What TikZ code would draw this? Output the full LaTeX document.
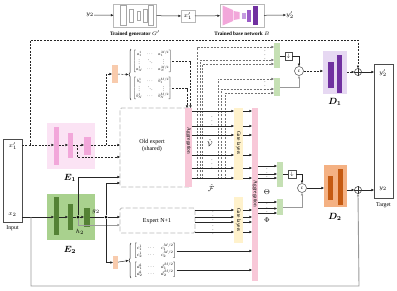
\documentclass[tikz,border=0pt]{standalone}
\usepackage{fontspec}
\setmainfont{Liberation Serif}
\usepackage{amsmath}
\usepackage{graphicx}
\usetikzlibrary{arrows.meta,decorations.pathreplacing,calc}
\newcommand\fsz[1]{\fontsize{#1}{#1}\selectfont}
\definecolor{epink}{HTML}{FBE3F4}
\definecolor{bpink}{HTML}{F2A7DA}
\definecolor{egreen}{HTML}{A9D18E}
\definecolor{bgreen}{HTML}{548235}
\definecolor{aggpink}{HTML}{F8C8D8}
\definecolor{gateyel}{HTML}{FFF2CC}
\definecolor{lgreen}{HTML}{C5E0B4}
\definecolor{lorange}{HTML}{F8CBAD}
\definecolor{lav}{HTML}{E6D8F2}
\definecolor{dpurple}{HTML}{7030A0}
\definecolor{mpurple}{HTML}{9A5CC8}
\definecolor{lpurple}{HTML}{C49BE0}
\definecolor{dorange}{HTML}{F4B183}
\definecolor{ddorange}{HTML}{C55A11}
\begin{document}
\begin{tikzpicture}[x=1pt,y=-1pt,
  arr/.style={-{Triangle[length=2.6pt,width=2.2pt]}},
  ln/.style={draw=black!85,line width=0.5pt},
  dl/.style={ln,dash pattern=on 2pt off 1.3pt},
  gl/.style={draw=gray!80,line width=0.9pt},
  bx/.style={inner sep=0pt,outer sep=0pt},
  graybox/.style={bx,draw=gray!55,line width=0.7pt,fill=white},
  dbox/.style={bx,draw=gray!55,line width=0.9pt,dash pattern=on 5pt off 2pt,rounded corners=1.5pt},
  barlbl/.style={rotate=-90,font=\fsz{5.3},inner sep=0pt},
  txt/.style={font=\fsz{6},inner sep=0pt},
  blbl/.style={font=\fsz{9},inner sep=0pt},
  dot/.style={circle,fill=black,inner sep=0pt,minimum size=3pt},
  vd/.style={font=\fsz{5},inner sep=0pt},
  mtx/.style={inner sep=0pt}
]
\useasboundingbox (0,0) rectangle (397,290);

% ---------- top row ----------
\node[txt] (y2top) at (90,15) {$y_2$};
\node[graybox,minimum width=43pt,minimum height=23pt] (gen) at (135,15.5) {};
\foreach \xa/\xb/\ya in {120.5/126/5.5,129/133/9,137/140/11,143/147/9,148.5/153.5/5.5}
  \draw[gray!70,line width=0.6pt,fill=white] (\xa,\ya) rectangle (\xb,31-\ya);
\node[font=\bfseries\fsz{5.2},inner sep=0pt] (genl) at (135,33.5) {Trained generator $G'$};
\node[graybox,minimum width=14pt,minimum height=12pt,font=\fsz{6}] (xs) at (188,16) {$x_1'$};
\node[graybox,minimum width=44pt,minimum height=23pt] (base) at (242,15.5) {};
\fill[bpink] (222.5,5.5) -- (233,10) -- (233,21) -- (222.5,25.5) -- cycle;
\fill[bpink] (233.5,11) -- (239.5,12) -- (239.5,19) -- (233.5,20) -- cycle;
\fill[lpurple] (242,13) rectangle (245.5,19);
\fill[mpurple] (247,10) rectangle (251,22);
\fill[dpurple] (253,6) rectangle (257.5,25);
\node[font=\bfseries\fsz{5.2},inner sep=0pt] (basel) at (242,33.5) {Trained base network $B$};
\node[txt] (y2ptop) at (290,15) {$y_2'$};
\draw[ln,arr] (y2top) -- (gen);
\draw[ln,arr] (gen) -- (xs);
\draw[ln,arr] (xs) -- (base);
\draw[ln,arr] (base) -- (y2ptop);

% ---------- input ----------
\node[bx,draw=black!70,line width=0.6pt,minimum width=19pt,minimum height=83pt] (inbox) at (12.5,180.5) {};
\node[txt] (x1in) at (13,146) {$x_1'$};
\node[txt] (x2in) at (12.5,215) {$x_2$};
\node[txt,font=\fsz{5.8}] (inputl) at (12.5,228) {Input};

% ---------- E1 ----------
\node[bx,fill=epink,minimum width=48pt,minimum height=46pt] (e1) at (71,146) {};
\node[bx,fill=bpink,minimum width=5pt,minimum height=38pt] (e1a) at (56.5,146) {};
\node[bx,fill=bpink,minimum width=5pt,minimum height=25pt] (e1b) at (70.5,145.5) {};
\node[bx,fill=bpink,minimum width=7pt,minimum height=18pt] (e1c) at (87.5,146) {};
\node[blbl] (e1l) at (70,178) {$\boldsymbol{E_1}$};

% ---------- E2 ----------
\node[bx,fill=egreen,minimum width=48pt,minimum height=46pt] (e2) at (71,217) {};
\node[bx,fill=bgreen,minimum width=5pt,minimum height=38pt] (e2a) at (56.5,216) {};
\node[bx,fill=bgreen,minimum width=5pt,minimum height=26pt] (e2b) at (70.5,217) {};
\node[bx,fill=bgreen,minimum width=6pt,minimum height=19pt] (e2c) at (87,217.5) {};
\node[font=\fsz{6.5},inner sep=0pt] (g2l) at (96,211.5) {$g_2$};
\node[font=\fsz{6.5},inner sep=0pt] (h2l) at (80,232) {$h_2$};
\node[blbl] (e2l) at (70,250) {$\boldsymbol{E_2}$};

% ---------- experts ----------
\node[dbox,minimum width=70pt,minimum height=79pt] (old) at (155,147.5) {};
\node[txt,align=center,font=\fsz{6}] (oldl) at (152,146) {Old expert\\[1pt](shared)};
\node[bx,fill=aggpink,minimum width=7pt,minimum height=79pt] (agg1) at (188.5,147.5) {};
\node[barlbl] (agg1l) at (188.5,141) {Aggregation};
\node[dbox,minimum width=75pt,minimum height=25pt] (expn) at (157.5,220.5) {};
\node[txt] (expnl) at (157,221) {Expert N+1};
\node[bx,fill=gateyel,minimum width=9pt,minimum height=72pt] (gate1) at (238.5,144) {};
\node[barlbl] (gate1l) at (238.5,143) {Gate layers};
\node[bx,fill=gateyel,minimum width=9pt,minimum height=46pt] (gate2) at (238.5,220) {};
\node[barlbl] (gate2l) at (238.5,220) {Gate layers};
\node[bx,fill=aggpink,minimum width=6pt,minimum height=173pt] (agg2) at (255,194.5) {};
\node[barlbl] (agg2l) at (255,194) {Aggregation};

% ---------- matrices ----------
\node[bx,fill=lorange,minimum width=6pt,minimum height=18pt] (oa) at (115,74) {};
\node[bx,fill=lorange,minimum width=5pt,minimum height=13pt] (oc) at (115.5,262.5) {};
\draw[ln,decorate,decoration={brace,amplitude=2pt}] (131,100) -- (131,49);
\draw[ln,decorate,decoration={brace,amplitude=2pt}] (131,278) -- (131,243);
\coordinate (bra) at (128.5,74.5);
\coordinate (brc) at (128.5,260.5);
\node[mtx] (ma) at (152.5,61.5) {\resizebox*{39pt}{22pt}{$\begin{bmatrix} a_1^1 & \cdots & a_1^{M/2}\\ \vdots & \ddots & \vdots\\ a_N^1 & \cdots & a_N^{M/2}\end{bmatrix}$}};
\node[mtx] (mb) at (152.5,88.5) {\resizebox*{39pt}{22pt}{$\begin{bmatrix} b_1^1 & \cdots & b_1^{M/2}\\ \vdots & \ddots & \vdots\\ b_N^1 & \cdots & b_N^{M/2}\end{bmatrix}$}};
\node[mtx] (mc) at (155,251) {\resizebox*{43pt}{15pt}{$\begin{bmatrix} c_1^1 & \cdots & c_1^{M/2}\\ c_2^1 & \cdots & c_2^{M/2}\end{bmatrix}$}};
\node[mtx] (md) at (155,270) {\resizebox*{43pt}{15pt}{$\begin{bmatrix} d_1^1 & \cdots & d_1^{M/2}\\ d_2^1 & \cdots & d_2^{M/2}\end{bmatrix}$}};
\draw[dl,arr] (oa) -- (bra);
\draw[ln,arr] (oc) -- (brc);

% ---------- right side ----------
\node[bx,fill=lgreen,minimum width=6pt,minimum height=25pt] (g1) at (277,55.5) {};
\node[bx,fill=lgreen,minimum width=6pt,minimum height=18pt] (g2) at (277,87) {};
\node[bx,fill=lgreen,minimum width=6pt,minimum height=25pt] (g3) at (280,174.5) {};
\node[bx,fill=lgreen,minimum width=6pt,minimum height=16pt] (g4) at (280,207) {};
\node[bx,draw=black!70,line width=0.5pt,fill=white,minimum width=7pt,minimum height=8pt,font=\fsz{5}] (s1) at (288.5,56.5) {$\downarrow$};
\node[bx,draw=black!70,line width=0.5pt,fill=white,minimum width=8pt,minimum height=8pt,font=\fsz{5}] (s2) at (292,174) {$\downarrow$};
\node[circle,draw=black!70,line width=0.5pt,inner sep=0pt,minimum size=9pt,font=\fsz{5}] (c1) at (299,71) {c};
\node[circle,draw=black!70,line width=0.5pt,inner sep=0pt,minimum size=9pt,font=\fsz{5}] (c2) at (302,188) {c};
\node[bx,fill=lav,minimum width=24pt,minimum height=43pt] (d1) at (335,72.5) {};
\fill[dpurple] (328,62) rectangle (334,88);
\fill[dpurple] (337,55) rectangle (342,93);
\node[blbl] (d1l) at (335,102) {$\boldsymbol{D_1}$};
\node[bx,fill=dorange,minimum width=23pt,minimum height=42pt] (d2) at (335.5,186) {};
\fill[ddorange] (328,176) rectangle (333,200);
\fill[ddorange] (338,169) rectangle (343,205);
\node[blbl] (d2l) at (335,217) {$\boldsymbol{D_2}$};
\node[circle,draw=black!80,line width=0.5pt,inner sep=0pt,minimum size=7pt] (o1) at (358,72) {};
\draw[black!80,line width=0.5pt] (o1.north) -- (o1.south) (o1.west) -- (o1.east);
\node[circle,draw=black!80,line width=0.5pt,inner sep=0pt,minimum size=7pt] (o2) at (358,190) {};
\draw[black!80,line width=0.5pt] (o2.north) -- (o2.south) (o2.west) -- (o2.east);
\node[bx,draw=black!70,line width=0.6pt,minimum width=19pt,minimum height=134pt] (tgt) at (383.5,131) {};
\node[txt] (y2pt) at (383,73) {$y_2'$};
\node[txt] (y2t) at (383,189) {$y_2$};
\node[txt,font=\fsz{5.8}] (tgtl) at (383.5,205.5) {Target};
\node[font=\fsz{7},inner sep=0pt] (thl) at (267,192) {$\Theta$};
\node[font=\fsz{7},inner sep=0pt] (phl) at (267,220) {$\Phi$};
\node[font=\fsz{7},inner sep=0pt] (vl) at (210,143) {$\hat{\mathcal{V}}$};
\node[font=\fsz{7},inner sep=0pt] (fl) at (211,188) {$\hat{\mathcal{F}}$};

% ---------- E1 row (dashed) ----------
\draw[dl,arr] (inbox.east |- 0,145) -- (e1a.west |- 0,145);
\draw[dl,arr] (e1a.east |- 0,145) -- (e1b.west |- 0,145);
\draw[dl,arr] (e1b.east |- 0,145) -- (e1c.west |- 0,145);
\draw[dl,arr] (e1c.east |- 0,145) -- (old.west |- 0,145);
\draw[dl,arr] (77,145) -- (77,157) -- (old.west |- 0,157);
\draw[dl,arr] (106,145) -- (106,74) -- (oa.west);
\draw[dl,arr] (30,145) -- (30,40) -- (358,40) -- (o1.north);
\draw[dl,arr] (ma.east) -- (190.5,61.5) -- (agg1.north -| 190.5,0);
\draw[dl,arr] (mb.east) -- (187,88.5) -- (agg1.north -| 187,0);

% ---------- E2 row (solid) ----------
\node[dot] (dt1) at (78,217) {};
\node[dot] (dt2) at (106,217) {};
\draw[ln,arr] (inbox.east |- 0,217) -- (e2a.west |- 0,217);
\draw[ln,arr] (e2a.east |- 0,217) -- (e2b.west |- 0,217);
\draw[ln] (e2b.east |- 0,217) -- (dt1);
\draw[ln,arr] (dt1) -- (e2c.west |- 0,217);
\draw[ln] (e2c.east |- 0,217) -- (dt2);
\draw[ln,arr] (dt2) -- (expn.west |- 0,217);
\draw[ln,arr] (dt1) -- (78,177) -- (old.west |- 0,177);
\draw[gl,arr] (dt1) -- (78,225) -- (expn.west |- 0,225);
\draw[ln,arr] (dt2) -- (106,183) -- (old.west |- 0,183);
\draw[ln,arr] (dt2) -- (106,262.5) -- (oc.west);
\draw[gl,arr] (31,217) -- (31,286) -- (359,286) -- (o2.south);
\draw[ln,arr] (mc.east) -- (agg2.west |- mc.east);
\draw[ln,arr] (md.east) -- (agg2.west |- md.east);

% ---------- dashed feature routes to D1 ----------
\draw[dl,gray!90!black,arr] (197.5,179) -- (197.5,47) -- (g1.west |- 0,47);
\draw[dl,gray!90!black,arr] (200,179) -- (200,60) -- (g1.west |- 0,60);
\draw[dl,gray!90!black,arr] (202.5,179) -- (202.5,64) -- (g1.west |- 0,64);
\draw[dl,gray!90!black,arr] (218,179) -- (218,79) -- (g2.west |- 0,79);
\draw[dl,gray!90!black,arr] (221.5,179) -- (221.5,89) -- (g2.west |- 0,89);
\draw[dl,gray!90!black,arr] (225,179) -- (225,93) -- (g2.west |- 0,93);
\node[vd] (vd5) at (265,52.5) {$\vdots$};
\node[vd] (vd6) at (265,83.5) {$\vdots$};

% ---------- expert outputs ----------
\foreach \yy in {111,126,135,155,168,178}{
  \draw[ln,arr] (agg1.east |- 0,\yy) -- (gate1.west |- 0,\yy);
  \draw[ln,arr] (gate1.east |- 0,\yy) -- (agg2.west |- 0,\yy);
}
\node[vd] (vd1) at (212,118.5) {$\vdots$};
\node[vd] (vd2) at (212,161.5) {$\vdots$};
\foreach \yy in {210,217,222,232}{
  \draw[ln,arr] (expn.east |- 0,\yy) -- (gate2.west |- 0,\yy);
  \draw[ln,arr] (gate2.east |- 0,\yy) -- (agg2.west |- 0,\yy);
}
\node[vd] (vd3) at (213,213.5) {$\vdots$};
\node[vd] (vd4) at (213,227) {$\vdots$};

% ---------- D1 branch ----------
\draw[ln] (g1.east |- s1) -- (s1.west);
\draw[ln,arr] (s1.east) -- (299,56.5) -- (c1.north);
\draw[gl,arr] (g2.east) -- (299,87) -- (c1.south);
\draw[dl,arr] (c1.east) -- (d1.west |- c1.east);
\draw[dl,arr] (d1.east |- o1) -- (o1.west);
\draw[ln,arr] (o1.east) -- (tgt.west |- o1);

% ---------- D2 branch ----------
\foreach \yy in {166,174,178}
  \draw[ln,arr] (agg2.east |- 0,\yy) -- (g3.west |- 0,\yy);
\foreach \yy in {202,208.5,213}
  \draw[ln,arr] (agg2.east |- 0,\yy) -- (g4.west |- 0,\yy);
\node[vd] (vd7) at (267,170) {$\vdots$};
\node[vd] (vd8) at (267,205) {$\vdots$};
\draw[ln] (g3.east |- s2) -- (s2.west);
\draw[ln,arr] (s2.east) -- (302,174) -- (c2.north);
\draw[gl,arr] (g4.east) -- (302,207) -- (c2.south);
\draw[ln,arr] (c2.east) -- (d2.west |- c2.east);
\draw[ln,arr] (d2.east |- o2) -- (o2.west);
\draw[ln,arr] (o2.east) -- (tgt.west |- o2);
\end{tikzpicture}
\end{document}
